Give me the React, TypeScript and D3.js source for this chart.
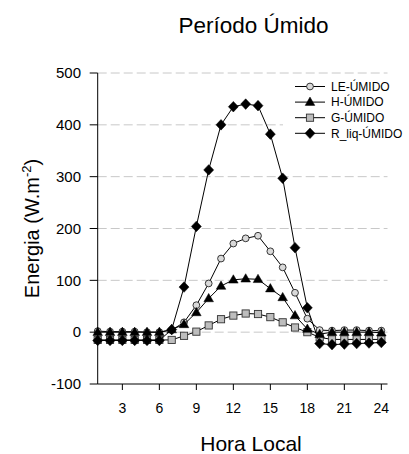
import React from "react";
import * as d3 from "d3";

const hours = [1,2,3,4,5,6,7,8,9,10,11,12,13,14,15,16,17,18,19,20,21,22,23,24];
const leUmido = [2,1,1,1,0,0,4,19,52,94,142,171,181,186,156,125,76,26,4,3,4,4,3,3];
const hUmido = [0,0,0,0,0,0,5,15,38,65,89,101,103,102,84,67,32,6,-4,0,0,0,0,-1];
const gUmido = [-15,-15,-15,-15,-15,-15,-15,-7,1,13,25,32,36,35,29,19,9,0,-10,-14,-14,-14,-14,-14];
const rUmido = [-16,-16,-16,-16,-16,-16,5,87,204,313,400,435,440,437,382,297,163,47,-22,-24,-23,-22,-21,-20];
const xTicks = [3,6,9,12,15,18,21,24];
const yTicks = [-100,0,100,200,300,400,500];
const gridTicks = [0,100,200,300,400,500];
const seriesNames = ["LE-ÚMIDO","H-ÚMIDO","G-ÚMIDO","R_liq-ÚMIDO"];

const W = 409, H = 454;
const x = d3.scaleLinear().domain([1, 24.5]).range([97.7, 387.5]);
const y = d3.scaleLinear().domain([-100, 500]).range([384, 73]);

type Kind = "circle" | "triangle" | "square" | "diamond";

function Marker({ kind, cx, cy }: { kind: Kind; cx: number; cy: number }) {
  if (kind === "circle") return <circle cx={cx} cy={cy} r={3.4} fill="#d9d9d9" stroke="#222" strokeWidth={0.9} />;
  if (kind === "square") return <rect x={cx - 3.6} y={cy - 3.6} width={7.2} height={7.2} fill="#bdbdbd" stroke="#333" strokeWidth={0.9} />;
  if (kind === "triangle") {
    const p = d3.symbol().type(d3.symbolTriangle).size(40)();
    return <path d={p || ""} transform={`translate(${cx},${cy + 0.5})`} fill="#000" stroke="#000" strokeWidth={0.5} />;
  }
  const a = 5, b = 5.3;
  return <path d={`M0,${-b}L${a},0L0,${b}L${-a},0Z`} transform={`translate(${cx},${cy})`} fill="#000" stroke="#000" strokeWidth={0.5} />;
}

export default function App() {
  const series: { name: string; values: number[]; kind: Kind }[] = [
    { name: seriesNames[2], values: gUmido, kind: "square" },
    { name: seriesNames[0], values: leUmido, kind: "circle" },
    { name: seriesNames[1], values: hUmido, kind: "triangle" },
    { name: seriesNames[3], values: rUmido, kind: "diamond" },
  ];
  const legendOrder: Kind[] = ["circle", "triangle", "square", "diamond"];
  const line = d3.line<number>().x((_, i) => x(hours[i])).y((v) => y(v));
  const font = "Arial, 'Liberation Sans', Helvetica, sans-serif";
  const [x0, x1] = x.range();
  return (
    <svg width={W} height={H} style={{ position: "absolute", left: 0, top: 0, background: "#fff" }} fontFamily={font}>
      <rect x={0} y={0} width={W} height={H} fill="#fff" />
      {gridTicks.map((t) => (
        <line key={t} x1={x0} x2={x1} y1={y(t)} y2={y(t)} stroke="#c8c8c8" strokeWidth={1} strokeDasharray="9,4" />
      ))}
      {/* legend background */}
      <rect x={283} y={76} width={105} height={66} fill="#fff" />
      {seriesNames.map((n, i) => {
        const ly = 86.5 + i * 15.6;
        return (
          <g key={n}>
            <line x1={295} x2={325} y1={ly} y2={ly} stroke="#000" strokeWidth={1} />
            <Marker kind={legendOrder[i]} cx={310} cy={ly} />
            <text x={331} y={ly + 4.3} fontSize={12} fill="#000">{n}</text>
          </g>
        );
      })}
      {series.map((s) => (
        <g key={s.name}>
          <path d={line(s.values) || ""} fill="none" stroke="#000" strokeWidth={1} />
          {s.values.map((v, i) => (
            <Marker key={i} kind={s.kind} cx={x(hours[i])} cy={y(v)} />
          ))}
        </g>
      ))}
      {/* axes */}
      <line x1={x0} x2={x0} y1={y(500)} y2={y(-100)} stroke="#000" strokeWidth={1} />
      <line x1={x0} x2={x1} y1={y(-100)} y2={y(-100)} stroke="#000" strokeWidth={1} />
      {yTicks.map((t) => (
        <g key={t}>
          <line x1={x0 - 8} x2={x0} y1={y(t)} y2={y(t)} stroke="#000" strokeWidth={1} />
          <text x={81} y={y(t) + 5.2} fontSize={15} textAnchor="end" fill="#000">{t}</text>
        </g>
      ))}
      {xTicks.map((t) => (
        <g key={t}>
          <line x1={x(t)} x2={x(t)} y1={y(-100)} y2={y(-100) + 6} stroke="#000" strokeWidth={1} />
          <text x={x(t)} y={413} fontSize={14} textAnchor="middle" fill="#000">{t}</text>
        </g>
      ))}
      <text x={253.5} y={33} fontSize={22.5} textAnchor="middle" fill="#000">Período Úmido</text>
      <text x={251} y={451} fontSize={21} textAnchor="middle" fill="#000">Hora Local</text>
      <text transform={`translate(39,${(y(500) + y(-100)) / 2}) rotate(-90)`} fontSize={20} textAnchor="middle" fill="#000">
        Energia (W.m<tspan dy={-8} fontSize={13}>-2</tspan><tspan dy={8}>)</tspan>
      </text>
    </svg>
  );
}
